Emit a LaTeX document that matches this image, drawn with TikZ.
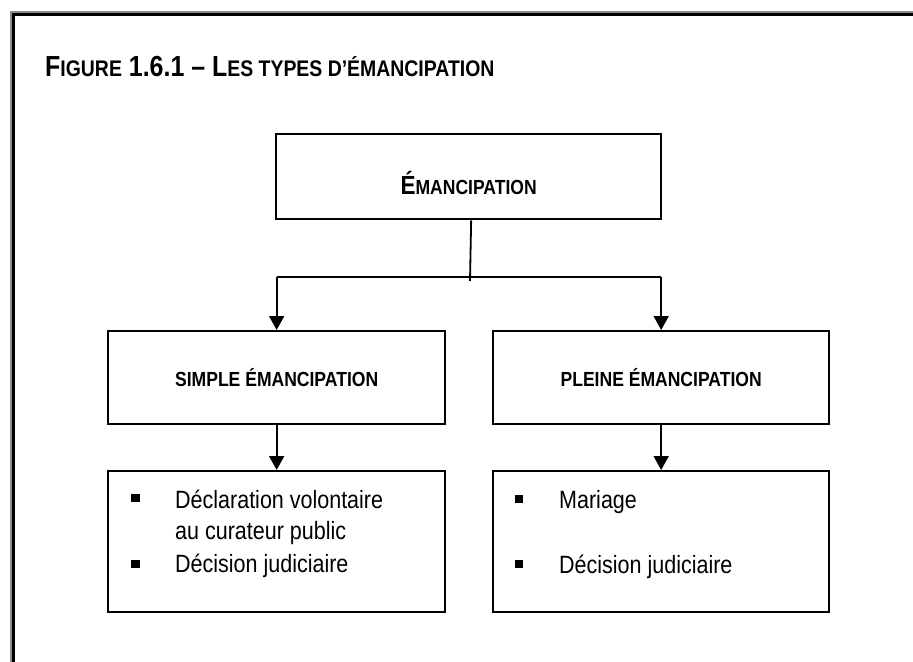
\documentclass[tikz,border=0pt]{standalone}
\usepackage{fontspec}
\setmainfont{Liberation Sans}[FakeStretch=0.86]
\usetikzlibrary{arrows.meta}

% fake small caps: full capital, then reduced capitals
\newcommand\capsz{\fontsize{26.2bp}{31bp}\selectfont}
\newcommand\smcsz{\fontsize{20.4bp}{25bp}\selectfont}
\newcommand\ttlbig{\fontsize{29bp}{34bp}\selectfont}
\newcommand\ttlsmall{\fontsize{22.6bp}{28bp}\selectfont}

\definecolor{framegray}{HTML}{8C8C8C}

\tikzset{
  box/.style={draw=black, line width=2.3bp, rectangle, inner sep=0pt, fill=white},
  conn/.style={draw=black, line width=1.8bp},
  arr/.style={conn, -{Triangle[width=15bp,length=14bp]}},
  bul/.style={fill=black, rectangle, inner sep=0pt, minimum size=8.5bp},
  itemtxt/.style={anchor=base west, inner sep=0pt, font=\fontsize{25bp}{30bp}\selectfont},
  head/.style={font=\bfseries},
}

\begin{document}
\begin{tikzpicture}[x=1bp, y=-1bp]
  \useasboundingbox (0,0) rectangle (913,662);
  \fill[white] (0,0) rectangle (913,662);

  % page frame, open to the right and bottom
  \draw[framegray, line width=2bp] (11,662) -- (11,12) -- (913,12);
  \draw[black, line width=2.6bp] (13.5,662) -- (13.5,14.3) -- (913,14.3);

  % caption
  \node[anchor=base west, inner sep=0pt, font=\bfseries] (caption) at (45,77)
    {{\ttlbig F}{\ttlsmall IGURE}{\ttlbig{} 1.6.1 – L}{\ttlsmall ES TYPES D’ÉMANCIPATION}};

  % top box
  \node[box, head, anchor=north west, minimum width=385bp, text height=60bp, text depth=25bp]
    (top) at (275,133) {{\capsz É}{\smcsz MANCIPATION}};

  % second level
  \node[box, head, anchor=north west, minimum width=337bp, text height=55bp, text depth=38bp]
    (simple) at (107,330) {\smcsz SIMPLE ÉMANCIPATION};
  \node[box, head, anchor=north west, minimum width=336bp, text height=55bp, text depth=38bp]
    (pleine) at (492,330) {\smcsz PLEINE ÉMANCIPATION};

  % third level
  \node[box, anchor=north west, minimum width=337bp, minimum height=141bp]
    (simplelist) at (107,470) {};
  \node[box, anchor=north west, minimum width=336bp, minimum height=141bp]
    (pleinelist) at (492,470) {};

  \node[bul] (sb1) at (135.5,498) {};
  \node[itemtxt] (st1) at (175,508) {Déclaration volontaire};
  \node[itemtxt] (st2) at (175,539) {au curateur public};
  \node[bul] (sb2) at (135.5,564) {};
  \node[itemtxt] (st3) at (175,572) {Décision judiciaire};

  \node[bul] (pb1) at (519,499) {};
  \node[itemtxt] (pt1) at (559,508) {Mariage};
  \node[bul] (pb2) at (519,564) {};
  \node[itemtxt] (pt2) at (559,573) {Décision judiciaire};

  % connectors
  \coordinate (jm) at (470,281);
  \coordinate (jl) at (simple.north |- 0,277);
  \coordinate (jr) at (pleine.north |- 0,277);
  \draw[conn] ([xshift=2.5bp]top.south) -- (jm);
  \draw[conn] (jl) -- (jr);
  \draw[arr] (jl) -- (simple.north);
  \draw[arr] (jr) -- (pleine.north);
  \draw[arr] (simple.south) -- (simplelist.north);
  \draw[arr] (pleine.south) -- (pleinelist.north);
\end{tikzpicture}
\end{document}
